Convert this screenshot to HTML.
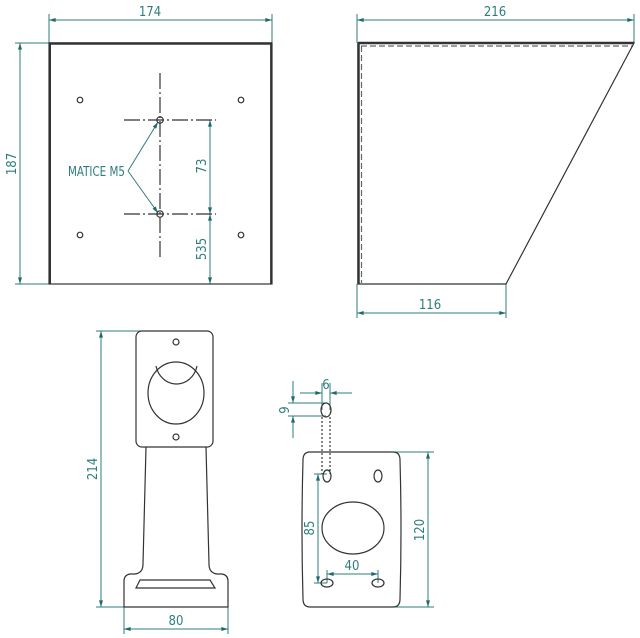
<!DOCTYPE html>
<html><head><style>
html,body{margin:0;padding:0;background:#fff;}
svg{display:block;}
text{font-family:"DejaVu Sans Condensed","Liberation Sans Narrow","Liberation Sans",sans-serif;fill:#2e7d7d;font-size:13px;}
</style></head><body>
<svg width="640" height="638" viewBox="0 0 640 638" xmlns="http://www.w3.org/2000/svg">
<defs>
<marker id="a" viewBox="0 0 10 6" refX="10" refY="3" markerWidth="8" markerHeight="4" orient="auto-start-reverse" markerUnits="userSpaceOnUse"><path d="M0,0 L10,3 L0,6z" fill="#1f6b6b"/></marker>
</defs>
<g stroke="#2e7d7d" stroke-width="1" fill="none">
<line x1="49" y1="14" x2="49" y2="43"/><line x1="272" y1="14" x2="272" y2="43"/>
<line x1="49" y1="20" x2="272" y2="20" marker-start="url(#a)" marker-end="url(#a)"/>
<line x1="15" y1="43" x2="49" y2="43"/><line x1="15" y1="284" x2="49" y2="284"/>
<line x1="20" y1="43" x2="20" y2="284" marker-start="url(#a)" marker-end="url(#a)"/>
<line x1="210" y1="120" x2="210" y2="214" marker-start="url(#a)" marker-end="url(#a)"/>
<line x1="210" y1="214" x2="210" y2="284" marker-start="url(#a)" marker-end="url(#a)"/>
<line x1="128" y1="171" x2="158" y2="122" marker-end="url(#a)"/>
<line x1="128" y1="171" x2="158" y2="213" marker-end="url(#a)"/>
<line x1="357" y1="14" x2="357" y2="43"/><line x1="634" y1="14" x2="634" y2="43"/>
<line x1="357" y1="20" x2="634" y2="20" marker-start="url(#a)" marker-end="url(#a)"/>
<line x1="357" y1="284" x2="357" y2="318"/><line x1="506" y1="284" x2="506" y2="318"/>
<line x1="357" y1="313" x2="506" y2="313" marker-start="url(#a)" marker-end="url(#a)"/>
<line x1="96" y1="331" x2="150" y2="331"/><line x1="96" y1="607" x2="124" y2="607"/>
<line x1="101" y1="331" x2="101" y2="607" marker-start="url(#a)" marker-end="url(#a)"/>
<line x1="124" y1="607" x2="124" y2="634"/><line x1="228" y1="607" x2="228" y2="634"/>
<line x1="124" y1="629" x2="228" y2="629" marker-start="url(#a)" marker-end="url(#a)"/>
<line x1="390" y1="452" x2="434" y2="452"/><line x1="390" y1="607" x2="434" y2="607"/>
<line x1="428" y1="452" x2="428" y2="607" marker-start="url(#a)" marker-end="url(#a)"/>
<line x1="314" y1="474" x2="327" y2="474"/><line x1="314" y1="583" x2="327" y2="583"/>
<line x1="318" y1="474" x2="318" y2="583" marker-start="url(#a)" marker-end="url(#a)"/>
<line x1="327" y1="570" x2="327" y2="583"/><line x1="378" y1="570" x2="378" y2="583"/>
<line x1="327" y1="574" x2="378" y2="574" marker-start="url(#a)" marker-end="url(#a)"/>
<line x1="322" y1="383" x2="322" y2="410"/><line x1="330" y1="383" x2="330" y2="410"/>
<line x1="300" y1="393" x2="322" y2="393" marker-end="url(#a)"/>
<line x1="352" y1="393" x2="330" y2="393" marker-end="url(#a)"/>
<line x1="288" y1="403" x2="326" y2="403"/><line x1="288" y1="416" x2="326" y2="416"/>
<line x1="293" y1="381" x2="293" y2="403" marker-end="url(#a)"/>
<line x1="293" y1="438" x2="293" y2="416" marker-end="url(#a)"/>
</g>
<text x="150" y="16" text-anchor="middle">174</text>
<text x="495" y="16" text-anchor="middle">216</text>
<text x="430" y="309" text-anchor="middle">116</text>
<text x="176" y="625" text-anchor="middle">80</text>
<text x="352" y="570" text-anchor="middle">40</text>
<text x="68" y="176" font-size="12" textLength="57" lengthAdjust="spacingAndGlyphs">MATICE M5</text>
<text transform="translate(16,164) rotate(-90)" text-anchor="middle">187</text>
<text transform="translate(206,166) rotate(-90)" text-anchor="middle">73</text>
<text transform="translate(206,249) rotate(-90)" text-anchor="middle">535</text>
<text transform="translate(97,469) rotate(-90)" text-anchor="middle">214</text>
<text transform="translate(314,528) rotate(-90)" text-anchor="middle">85</text>
<text transform="translate(424,530) rotate(-90)" text-anchor="middle">120</text>
<text transform="translate(289,410) rotate(-90)" text-anchor="middle">9</text>
<text x="326" y="389" text-anchor="middle">6</text>

<g stroke="#333" stroke-width="1.2" fill="none">
<rect x="49" y="43" width="223" height="241"/>
<line x1="49" y1="43.5" x2="272" y2="43.5" stroke-width="2.5"/>
<line x1="50" y1="43" x2="50" y2="284" stroke-width="2"/>
<line x1="271" y1="43" x2="271" y2="284" stroke-width="1.8"/>
<circle cx="80" cy="100" r="2.8"/><circle cx="241" cy="100" r="2.8"/>
<circle cx="80" cy="235" r="2.8"/><circle cx="241" cy="235" r="2.8"/>
<circle cx="160" cy="120" r="3.2"/><circle cx="160" cy="214" r="3.2"/>
<g stroke-dasharray="16,3,2,3">
<line x1="124" y1="120" x2="216" y2="120"/>
<line x1="124" y1="214" x2="216" y2="214"/>
<line x1="160" y1="73" x2="160" y2="257"/>
</g>
<path d="M358,43 L634,43 L506,284 L358,284 Z"/>
<line x1="358" y1="43" x2="634" y2="43" stroke-width="2.5"/>
<line x1="358.5" y1="43" x2="358.5" y2="284" stroke-width="2.5"/>
<line x1="361" y1="46" x2="632" y2="46" stroke="#666" stroke-dasharray="6,3"/>
<line x1="361.5" y1="46" x2="361.5" y2="283" stroke="#666" stroke-dasharray="6,3"/>
<rect x="136" y="331" width="77" height="116" rx="6"/>
<circle cx="176" cy="342" r="3"/><circle cx="176" cy="437" r="3"/>
<ellipse cx="176" cy="393" rx="28" ry="31"/>
<path d="M156,366 A21,23 0 0 0 197,366"/>
<path d="M146,447 L143,564 Q143,573 135,574 L130,574 Q124,575 124,581 L124,607 L228,607 L228,581 Q228,575 222,574 L217,574 Q209,573 209,564 L206,447"/>
<path d="M140,580 L210,580 L215,588 L136,588 Z"/>
<path d="M310,452 L393,452 Q400,452 400,460 Q402,530 400,599 Q400,607 393,607 L310,607 Q303,607 303,599 Q301,530 303,460 Q303,452 310,452 Z"/>
<ellipse cx="327" cy="476" rx="4" ry="6"/><ellipse cx="378" cy="476" rx="4" ry="6"/>
<ellipse cx="327" cy="583" rx="6" ry="4"/><ellipse cx="378" cy="583" rx="6" ry="4"/>
<ellipse cx="353" cy="528" rx="31" ry="26"/>
<ellipse cx="326" cy="410" rx="5" ry="7"/>
<line x1="322" y1="417" x2="322" y2="474" stroke-dasharray="2,2"/>
<line x1="330" y1="417" x2="330" y2="474" stroke-dasharray="2,2"/>
</g>
</svg>
</body></html>
